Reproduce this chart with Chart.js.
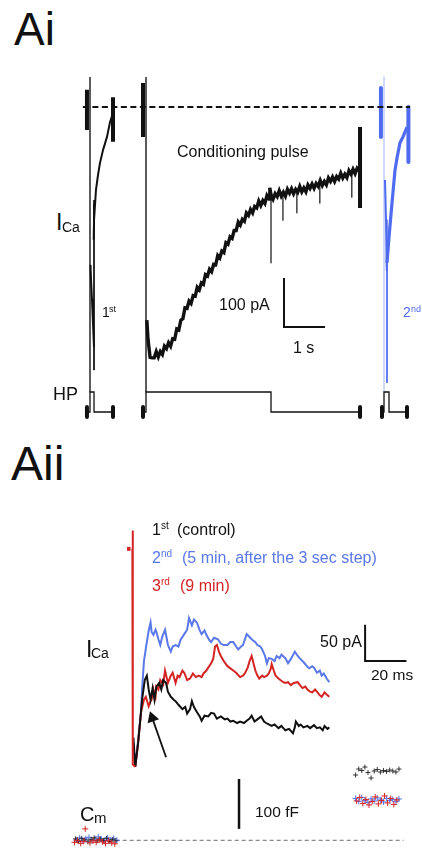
<!DOCTYPE html>
<html>
<head>
<meta charset="utf-8">
<script src="https://cdn.jsdelivr.net/npm/chart.js@4.4.1/dist/chart.umd.min.js"></script>
<style>
  body { margin: 0; background: #fff; }
  #fig { position: relative; width: 422px; height: 855px; overflow: hidden; font-family: "Liberation Sans", Arial, sans-serif; }
  canvas { position: absolute; }
  .t { position: absolute; white-space: nowrap; line-height: 1; color: #111; }
  .b { color: #4f6cf0; }
  .bl { color: #5a78ea; }
  .r { color: #d42424; }
</style>
</head>
<body>
<div id="fig">
  <canvas id="chart-ai" width="342" height="365" style="left:80px;top:60px"></canvas>
  <canvas id="chart-aii" width="362" height="340" style="left:60px;top:515px"></canvas>

  <div class="t" style="left:14px;top:6px;font-size:46px">Ai</div>
  <div class="t" style="left:177px;top:143.5px;font-size:16px">Conditioning pulse</div>
  <div class="t" style="left:56px;top:210.5px;font-size:23px">I</div>
  <div class="t" style="left:62px;top:220px;font-size:14px">Ca</div>
  <div class="t" style="left:102px;top:305px;font-size:14px">1</div>
  <div class="t" style="left:109px;top:305px;font-size:9px">st</div>
  <div class="t b" style="left:403px;top:305px;font-size:14px">2</div>
  <div class="t b" style="left:411px;top:305px;font-size:9px">nd</div>
  <div class="t" style="left:219px;top:296.5px;font-size:16px">100 pA</div>
  <div class="t" style="left:293px;top:339.5px;font-size:16px">1 s</div>
  <div class="t" style="left:53px;top:385px;font-size:18px">HP</div>

  <div class="t" style="left:11px;top:439.5px;font-size:48px">Aii</div>
  <div class="t" style="left:152px;top:521.5px;font-size:16px">1</div>
  <div class="t" style="left:161px;top:521px;font-size:10px">st</div>
  <div class="t" style="left:177px;top:521.5px;font-size:16px">(control)</div>
  <div class="t bl" style="left:152px;top:549.5px;font-size:16px">2</div>
  <div class="t bl" style="left:161px;top:549px;font-size:10px">nd</div>
  <div class="t bl" style="left:182px;top:549.5px;font-size:16px">(5 min, after the 3 sec step)</div>
  <div class="t r" style="left:152px;top:577.5px;font-size:16px">3</div>
  <div class="t r" style="left:161px;top:577px;font-size:10px">rd</div>
  <div class="t r" style="left:180px;top:577.5px;font-size:16px">(9 min)</div>
  <div class="t" style="left:86px;top:637.5px;font-size:23px">I</div>
  <div class="t" style="left:91px;top:646px;font-size:14px">Ca</div>
  <div class="t" style="left:320px;top:633.5px;font-size:16px">50 pA</div>
  <div class="t" style="left:371px;top:667px;font-size:15.5px">20 ms</div>
  <div class="t" style="left:255px;top:804px;font-size:15.5px">100 fF</div>
  <div class="t" style="left:80px;top:804px;font-size:20px">C</div>
  <div class="t" style="left:94px;top:810px;font-size:15px">m</div>
</div>

<script>
// ---- Ai : temps (s), courant (pA), HP (mV) ----
const aiZero = [[-1.54, 0], [6.44, 0]];
// 1er test pulse
const first_upper = [[-0.805,-12],[-0.878,-31],[-0.951,-61],[-1.049,-88],[-1.122,-114],[-1.171,-139],[-1.220,-169],[-1.244,-200],[-1.268,-231],[-1.276,-271]];
const first_lower = [[-1.354,-322],[-1.341,-353],[-1.317,-394],[-1.293,-441],[-1.268,-490]];
const first_thin = [[-1.268,-190],[-1.268,-537]];
// conditioning pulse
const cond = [[0.02,-435],[0.05,-475],[0.10,-511],[0.15,-512],[0.20,-512],[0.25,-499],[0.30,-510],[0.35,-499],[0.40,-505],[0.45,-488],
  [0.50,-493],[0.55,-481],[0.60,-488],[0.65,-473],[0.70,-474],[0.75,-453],[0.80,-455],[0.85,-435],[0.90,-432],[0.95,-410],
  [1.00,-411],[1.05,-396],[1.10,-401],[1.15,-385],[1.20,-386],[1.25,-368],[1.30,-373],[1.35,-359],[1.40,-362],[1.45,-342],
  [1.50,-345],[1.55,-331],[1.60,-336],[1.65,-321],[1.70,-322],[1.75,-303],[1.80,-308],[1.85,-294],[1.90,-297],[1.95,-277],
  [2.00,-280],[2.05,-265],[2.10,-268],[2.15,-252],[2.20,-252],[2.25,-235],[2.30,-241],[2.35,-229],[2.40,-233],[2.45,-216],
  [2.50,-221],[2.55,-209],[2.60,-216],[2.65,-203],[2.70,-206],[2.75,-192],[2.80,-201],[2.85,-191],[2.90,-197],[2.95,-181],
  [3.00,-188],[3.02,-165],[3.05,-179],[3.10,-188],[3.15,-177],[3.20,-183],[3.25,-171],[3.30,-182],[3.35,-174],[3.40,-182],
  [3.45,-168],[3.50,-176],[3.55,-167],[3.60,-177],[3.65,-168],[3.70,-174],[3.75,-162],[3.80,-173],[3.85,-165],[3.90,-173],
  [3.95,-159],[4.00,-166],[4.05,-157],[4.10,-166],[4.15,-156],[4.20,-162],[4.25,-150],[4.30,-160],[4.35,-152],[4.40,-159],
  [4.45,-145],[4.50,-152],[4.55,-143],[4.60,-152],[4.65,-142],[4.70,-147],[4.75,-135],[4.80,-145],[4.85,-137],[4.90,-144],
  [4.95,-130],[5.00,-137],[5.05,-127],[5.10,-136],[5.15,-125],[5.20,-130]];
// pointes vers le bas : [t, départ, pointe]
const condSpikes = [[3.049,-180,-318],[3.34,-176,-231],[3.68,-170,-216],[4.24,-157,-196],[5.02,-134,-184]];
// 2e test pulse
const second_upper = [[6.366,-41],[6.268,-61],[6.195,-73],[6.122,-104],[6.073,-129],[6.0,-196],[5.927,-265],[5.878,-318]];
const second_lower = [[5.829,-149],[5.854,-231],[5.866,-292],[5.878,-333]];
const second_thin = [[5.878,-318],[5.878,-563]];
// barres épaisses [t, haut, bas]
const blackBars = [[-1.44,35,-47],[-0.805,20,-71],[-0.073,49,-61],[5.22,-41,-206]];
const blueBars = [[5.73,39,-61],[6.40,0,-112]];
const guideBlack = [[-1.366,61,-582],[0,61,-582]];
const guideBlue = [[5.805,61,-582]];
const scaleAi = [[3.366,-349],[3.366,-449],[4.366,-449]];
// HP
const hp1 = [[-1.44,-80],[-1.366,-80],[-1.366,0],[-1.268,0],[-1.268,-80],[-0.805,-80]];
const hpCond = [[-0.073,-80],[0,-80],[0,0],[3.049,0],[3.049,-80],[5.22,-80]];
const hp2 = [[5.756,-80],[5.805,-80],[5.805,0],[5.927,0],[5.927,-80],[6.366,-80]];
const hpTicks = [[-1.44,-60,-100],[-0.805,-60,-100],[-0.073,-60,-100],[5.22,-60,-100],[5.756,-60,-100],[6.366,-60,-100]];

// ---- Aii : temps (ms), courant (pA), Cm (fF) ----
const redTransient = [[0,0],[0.1,24],[0.3,-296],[1.4,-299]];
const redPre = [[-2.6,0],[-0.9,0]];
const black1 = [[0.5,-259],[1.4,-299],[2.8,-266],[4.7,-207],[6.0,-180],[7.0,-174],[7.9,-193],[8.8,-207],[9.8,-191],[10.7,-207],
  [11.6,-189],[13.0,-184],[14.0,-193],[14.9,-180],[16.3,-184],[17.2,-196],[18.6,-203],[20.0,-207],[20.9,-209],[22.3,-214],
  [24.2,-220],[25.6,-217],[26.5,-226],[27.9,-220],[28.8,-209],[29.8,-217],[31.2,-224],[32.6,-230],[33.5,-236],[34.9,-229],
  [36.7,-230],[38.1,-225],[39.5,-226],[40.9,-233],[42.8,-230],[44.7,-234],[46.0,-233],[47.4,-237],[48.8,-236],[50.7,-239],
  [52.1,-237],[54.0,-239],[55.3,-236],[56.7,-233],[57.7,-229],[59.1,-237],[60.5,-234],[62.3,-230],[63.7,-237],[64.7,-239],
  [66.0,-241],[67.4,-243],[68.8,-241],[70.7,-246],[72.1,-243],[74.0,-249],[75.8,-247],[77.7,-253],[78.6,-245],[79.1,-237],
  [80.5,-243],[81.4,-241],[82.8,-245],[84.7,-243],[86.0,-246],[87.9,-242],[89.3,-246],[90.7,-245],[92.1,-249],[93.0,-243],
  [94.4,-247],[95.3,-245]];
const blue2 = [[0.5,-266],[1.4,-299],[2.8,-262],[4.2,-224],[4.7,-193],[5.6,-154],[7.0,-128],[7.9,-112],[8.8,-101],[9.3,-114],
  [10.2,-118],[11.2,-111],[11.6,-114],[12.6,-124],[13.5,-132],[14.4,-121],[15.8,-111],[16.7,-124],[17.2,-132],[18.6,-141],
  [19.5,-134],[20.9,-132],[22.3,-134],[23.3,-125],[25.1,-117],[26.5,-111],[27.4,-95],[28.8,-105],[29.8,-97],[31.2,-101],
  [32.6,-112],[33.5,-117],[34.9,-112],[35.8,-118],[37.2,-125],[38.1,-128],[39.5,-122],[41.4,-124],[42.8,-130],[44.2,-132],
  [46.0,-132],[47.4,-128],[48.8,-128],[50.2,-134],[51.2,-138],[52.6,-134],[53.5,-132],[55.3,-117],[56.7,-121],[58.1,-125],
  [59.5,-128],[60.5,-132],[61.9,-134],[62.8,-138],[64.2,-147],[65.1,-157],[66.0,-150],[67.4,-151],[68.8,-154],[69.8,-147],
  [71.2,-150],[72.1,-145],[74.0,-150],[75.3,-157],[76.7,-151],[78.6,-141],[80.0,-147],[80.9,-150],[82.3,-154],[83.3,-157],
  [84.7,-162],[85.6,-164],[87.0,-161],[87.9,-163],[89.3,-170],[90.7,-167],[91.6,-174],[92.6,-171],[94.0,-178],[95.3,-183]];
const red3 = [[1.4,-299],[2.8,-266],[4.2,-224],[5.6,-207],[6.5,-203],[7.9,-216],[8.8,-209],[9.3,-207],[10.2,-193],[11.2,-203],
  [11.6,-189],[12.6,-193],[13.5,-180],[14.9,-186],[15.8,-167],[17.2,-184],[18.6,-174],[19.5,-170],[20.9,-184],[21.9,-174],
  [22.8,-176],[24.2,-167],[25.1,-170],[26.5,-180],[27.9,-178],[29.3,-171],[30.7,-176],[32.1,-174],[33.5,-176],[34.4,-171],
  [35.8,-167],[36.7,-163],[38.1,-157],[39.1,-151],[40.0,-134],[40.9,-132],[41.9,-141],[42.8,-147],[44.2,-154],[46.0,-161],
  [47.4,-164],[48.8,-167],[50.2,-170],[52.1,-176],[53.5,-174],[54.4,-171],[55.8,-163],[56.7,-154],[57.7,-147],[58.6,-157],
  [59.5,-167],[60.5,-174],[61.4,-178],[62.8,-174],[63.7,-176],[65.1,-174],[66.0,-171],[67.0,-164],[67.4,-158],[68.4,-167],
  [69.3,-174],[70.7,-178],[71.6,-180],[73.0,-183],[74.0,-184],[75.3,-183],[76.7,-187],[78.1,-184],[80.0,-183],[81.4,-188],
  [82.3,-191],[83.7,-189],[84.7,-193],[86.0,-196],[87.0,-197],[88.4,-193],[89.3,-196],[90.7,-201],[91.6,-203],[93.0,-197],
  [94.0,-200],[95.3,-203]];
const arrowShaft = [[16.3,-286],[9.6,-232]];
const arrowHead = [[9.6,-232]];
const scaleAii = [[112.6,-104],[112.6,-154],[132.6,-154]];
// capacité membranaire
const cmZero = [[-28.4,0],[131.2,0]];
const cmScale = [[51.6,23],[51.6,123]];
const cmBlack = [[-27.5,3],[-26,-2],[-24.5,4],[-23,1],[-21.5,-3],[-20,2],[-18.5,5],[-17,-1],[-15.5,3],[-14,0],[-12.5,4],[-11,-2],[-9.5,2],[-8,-1],
  [108,131],[109.5,143],[111,140],[112.5,147],[114,136],[115.5,125],[117,139],[118.5,142],[120,137],[121.5,140],[123,138],[124.5,141],[126,139],[127.5,137],[129,143]];
const cmBlue = [[-27,1],[-25.5,5],[-24,-1],[-22.5,3],[-21,6],[-19.5,0],[-18,3],[-16.5,7],[-15,2],[-13.5,-1],[-12,5],[-10.5,1],[-9,4],[-7.5,0],
  [108,84],[109.5,78],[111,86],[112.5,80],[114,76],[115.5,83],[117,79],[118.5,85],[120,81],[121.5,77],[123,84],[124.5,80],[126,82],[127.5,78],[129,83]];
const cmRed = [[-28,-4],[-26.5,0],[-25,-6],[-23.5,-2],[-22.8,23],[-20.5,-5],[-19,-1],[-17.5,-4],[-16,1],[-14.5,-3],[-13,-6],[-11.5,-1],[-10,-5],[-8.5,-7],
  [108.5,79],[110,86],[111.5,74],[113,82],[114.5,71],[116,78],[117.5,87],[119,73],[120.5,80],[122,89],[123.5,75],[125,84],[126.5,72],[128,81]];

const BLACK = "#111111", BLUE = "#4f6cf0", LIGHTBLUE = "#b3c1f2", RED = "#d42424", BLUE2 = "#5a78ea";

const pts = a => a.map(p => ({ x: p[0], y: p[1] }));
// segments verticaux séparés par des trous
const vsegs = a => a.flatMap(s => [{ x: s[0], y: s[1] }, { x: s[0], y: s[2] }, { x: s[0], y: null }]);

function line(data, color, width, extra) {
  return Object.assign({
    data: data, borderColor: color, backgroundColor: color, borderWidth: width,
    pointRadius: 0, tension: 0, spanGaps: false, clip: 6, borderJoinStyle: "round"
  }, extra || {});
}

const baseOptions = {
  responsive: false,
  animation: false,
  events: [],
  layout: { padding: 0 },
  plugins: { legend: { display: false }, tooltip: { enabled: false } },
};

// Graphique Ai
const ctx1 = document.getElementById("chart-ai").getContext("2d");
new Chart(ctx1, {
  type: "line",
  data: {
    datasets: [
      line(pts(aiZero), BLACK, 1.8, { borderDash: [6, 3.5], order: 0 }),
      line(vsegs(blackBars), BLACK, 4, { order: 1, borderJoinStyle: "miter", borderCapStyle: "butt" }),
      line(vsegs(blueBars), BLUE, 4, { order: 1, borderCapStyle: "butt" }),
      line(pts(first_upper), BLACK, 2, { order: 2 }),
      line(pts(first_lower), BLACK, 2, { order: 2 }),
      line(pts(first_thin), BLACK, 1, { order: 3 }),
      line(pts(cond), BLACK, 3.4, { order: 2, borderJoinStyle: "miter" }),
      line(vsegs(condSpikes), BLACK, 1.2, { order: 3 }),
      line(pts(second_upper), BLUE, 3.2, { order: 2 }),
      line(pts(second_lower), BLUE, 2, { order: 2 }),
      line(pts(second_thin), BLUE, 1, { order: 3 }),
      line(vsegs(guideBlack), "#444444", 1, { order: 4 }),
      line(vsegs(guideBlue), LIGHTBLUE, 1.2, { order: 4 }),
      line(pts(scaleAi), BLACK, 2, { order: 1, borderJoinStyle: "miter" }),
      line(pts(hp1), BLACK, 1.3, { yAxisID: "hp", borderJoinStyle: "miter" }),
      line(pts(hpCond), BLACK, 1.3, { yAxisID: "hp", borderJoinStyle: "miter" }),
      line(pts(hp2), BLACK, 1.3, { yAxisID: "hp", borderJoinStyle: "miter" }),
      line(vsegs(hpTicks), BLACK, 4, { yAxisID: "hp", borderCapStyle: "butt" }),
    ],
  },
  options: Object.assign({}, baseOptions, {
    scales: {
      x: { type: "linear", min: -1.6098, max: 6.7317, display: false },
      y: { type: "linear", min: -648.98, max: 95.918, display: false },
      hp: { type: "linear", min: -132, max: 1328, display: false },
    },
  }),
});

// Graphique Aii
const ctx2 = document.getElementById("chart-aii").getContext("2d");
new Chart(ctx2, {
  type: "line",
  data: {
    datasets: [
      line(pts(redTransient), RED, 2, { order: 0 }),
      line(pts(redPre), RED, 4, { order: 0, borderCapStyle: "butt" }),
      line(pts(black1), BLACK, 2, { order: 1, borderJoinStyle: "miter" }),
      line(pts(red3), RED, 2, { order: 2, borderJoinStyle: "miter" }),
      line(pts(blue2), BLUE2, 2, { order: 3, borderJoinStyle: "miter" }),
      line(pts(arrowShaft), BLACK, 1.8, { order: 1 }),
      line(pts(arrowHead), BLACK, 0, { order: 1, showLine: false, pointRadius: 7, pointStyle: "triangle", rotation: -19.5 }),
      line(pts(scaleAii), BLACK, 2, { order: 1, borderJoinStyle: "miter" }),
      line(pts(cmZero), "#8a8a8a", 1.2, { yAxisID: "cm", borderDash: [4, 3], order: 6 }),
      line(pts(cmScale), BLACK, 2.5, { yAxisID: "cm", borderCapStyle: "butt" }),
      line(pts(cmBlue), BLUE2, 1, { yAxisID: "cm", showLine: false, pointRadius: 3, pointStyle: "cross", order: 5 }),
      line(pts(cmRed), RED, 1, { yAxisID: "cm", showLine: false, pointRadius: 3, pointStyle: "cross", order: 4 }),
      line(pts(cmBlack), "#222222", 0.9, { yAxisID: "cm", showLine: false, pointRadius: 2.5, pointStyle: "cross", order: 4 }),
    ],
  },
  options: Object.assign({}, baseOptions, {
    scales: {
      x: { type: "linear", min: -31.628, max: 136.744, display: false },
      y: { type: "linear", min: -410.526, max: 36.842, display: false },
      cm: { type: "linear", min: -15.385, max: 638.46, display: false },
    },
  }),
});
</script>
</body>
</html>
